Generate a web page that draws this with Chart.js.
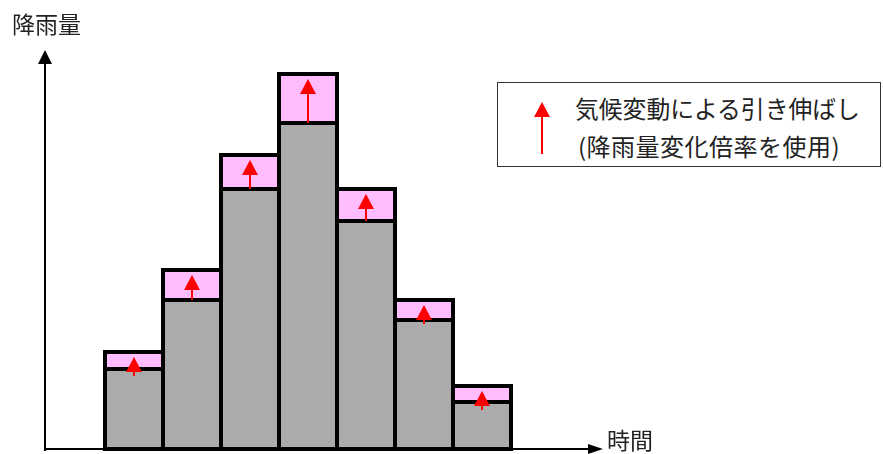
<!DOCTYPE html>
<html lang="ja">
<head>
  <meta charset="UTF-8" />
  <title>降雨量 - 気候変動による引き伸ばし</title>
  <style>
    body {
      margin: 0;
      background: #fff;
      font-family: 'Noto Sans CJK JP', 'Noto Sans', sans-serif;
      color: #222;
    }
    .wrap {
      position: relative;
      width: 883px;
      height: 454px;
      overflow: hidden;
    }
    canvas { position: absolute; left: 0; top: 0; }
    .label {
      position: absolute;
      font-size: 23px;
      line-height: 1;
      white-space: nowrap;
    }
    .legend {
      position: absolute;
      left: 497px;
      top: 82px;
      width: 384px;
      height: 85px;
      border: 1px solid #333;
      box-sizing: border-box;
      background: #fff;
    }
    .legend svg { position: absolute; left: 36px; top: 19px; }
    .legend .l1 { position: absolute; left: 77px; top: 13px; font-size: 23.8px; line-height: 1; white-space: nowrap; }
    .legend .l2 { position: absolute; left: 80px; top: 51px; font-size: 24px; line-height: 1; white-space: nowrap; letter-spacing: 0.5px; }
  </style>
</head>
<body>
  <div class="wrap">
    <canvas id="rainChart" width="883" height="454"></canvas>
    <div class="label" style="left:12px; top:12px;">降雨量</div>
    <div class="label" style="left:607px; top:428px;">時間</div>
    <div class="legend">
      <svg width="16" height="54" viewBox="0 0 16 54">
        <polygon points="8,0 0,15 16,15" fill="#ff0000" />
        <rect x="7" y="14" width="2" height="38" fill="#ff0000" />
      </svg>
      <div class="l1">気候変動による引き伸ばし</div>
      <div class="l2">(降雨量変化倍率を使用)</div>
    </div>
  </div>

  <script src="https://cdn.jsdelivr.net/npm/chart.js"></script>
  <script>
    // time steps (no tick labels shown in the picture)
    const timeSteps = ['1', '2', '3', '4', '5', '6', '7'];
    // present-day rainfall (gray)
    const baseRain = [80, 149, 260, 326, 228, 129, 47];
    // extra amount from climate change stretching (pink)
    const stretchRain = [17, 30, 34, 49, 32, 20, 16];
    const yMax = 400;

    // draw outlines, axes with arrowheads and the red arrows in the pink parts
    const decorPlugin = {
      id: 'decor',
      afterDatasetsDraw(chart) {
        const ctx = chart.ctx;
        const baseMeta = chart.getDatasetMeta(0);
        const addMeta = chart.getDatasetMeta(1);
        ctx.save();

        // black outlines
        ctx.strokeStyle = '#000';
        ctx.lineWidth = 4;
        ctx.lineJoin = 'miter';
        [baseMeta, addMeta].forEach(meta => {
          meta.data.forEach(el => {
            const p = el.getProps(['x', 'y', 'base', 'width'], true);
            ctx.strokeRect(p.x - p.width / 2, p.y, p.width, p.base - p.y);
          });
        });

        // red arrows
        ctx.fillStyle = '#ff0000';
        addMeta.data.forEach(el => {
          const p = el.getProps(['x', 'y', 'base'], true);
          const tip = p.y + 5;
          const headBase = tip + 15;
          const shaftEnd = Math.max(p.base, headBase + 4);
          ctx.beginPath();
          ctx.moveTo(p.x, tip);
          ctx.lineTo(p.x - 8, headBase);
          ctx.lineTo(p.x + 8, headBase);
          ctx.closePath();
          ctx.fill();
          ctx.fillRect(p.x - 1, headBase - 1, 2, shaftEnd - headBase + 1);
        });

        // axes
        const y0 = chart.scales.y.getPixelForValue(0);
        const ax = 45;
        ctx.fillStyle = '#000';
        ctx.fillRect(ax - 1, 60, 2, y0 - 60 + 2);
        ctx.fillRect(ax - 1, y0 - 1, 590 - ax, 2);
        ctx.beginPath();
        ctx.moveTo(ax, 50);
        ctx.lineTo(ax - 7, 64);
        ctx.lineTo(ax + 7, 64);
        ctx.closePath();
        ctx.fill();
        ctx.beginPath();
        ctx.moveTo(603, y0);
        ctx.lineTo(588, y0 - 5);
        ctx.lineTo(588, y0 + 5);
        ctx.closePath();
        ctx.fill();
        ctx.restore();
      }
    };

    new Chart(document.getElementById('rainChart'), {
      type: 'bar',
      data: {
        labels: timeSteps,
        datasets: [
          {
            label: '降雨量',
            data: baseRain,
            backgroundColor: '#ababab',
            borderWidth: 0
          },
          {
            label: '気候変動による引き伸ばし',
            data: stretchRain,
            backgroundColor: '#ffbdff',
            borderWidth: 0
          }
        ]
      },
      options: {
        responsive: false,
        animation: false,
        layout: { padding: { left: 105, right: 372, top: 49, bottom: 5 } },
        datasets: { bar: { barPercentage: 1, categoryPercentage: 1 } },
        scales: {
          x: { stacked: true, display: false },
          y: { stacked: true, display: false, min: 0, max: yMax }
        },
        plugins: {
          legend: { display: false },
          tooltip: { enabled: false }
        }
      },
      plugins: [decorPlugin]
    });
  </script>
</body>
</html>
